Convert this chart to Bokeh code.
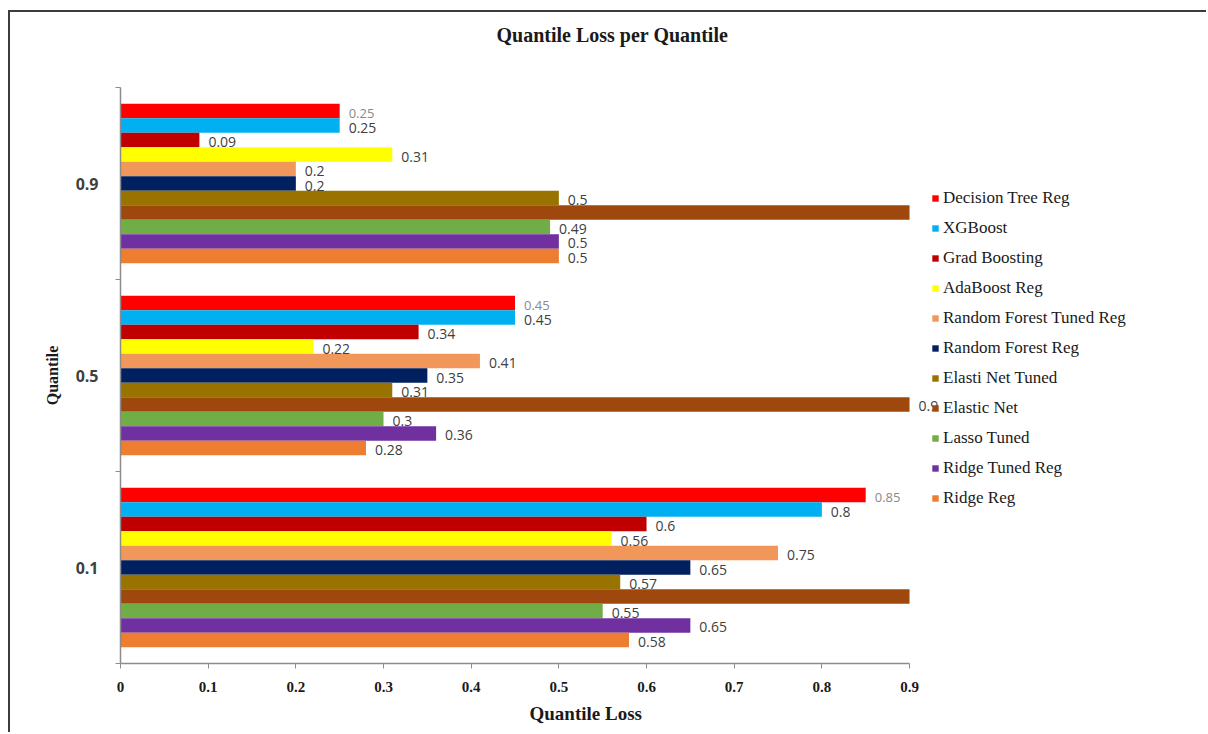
from bokeh.plotting import figure
from bokeh.models import ColumnDataSource, LabelSet, FixedTicker, Range1d, Title
from bokeh.core.properties import value
from bokeh.embed import file_html
from bokeh.resources import INLINE

# Quantile groups (bottom to top on the y axis)
quantiles = ["0.1", "0.5", "0.9"]

# Quantile loss per model, ordered as quantiles above
decision_tree_reg = [0.85, 0.45, 0.25]
xgboost = [0.80, 0.45, 0.25]
grad_boosting = [0.60, 0.34, 0.09]
adaboost_reg = [0.56, 0.22, 0.31]
random_forest_tuned_reg = [0.75, 0.41, 0.20]
random_forest_reg = [0.65, 0.35, 0.20]
elasti_net_tuned = [0.57, 0.31, 0.50]
elastic_net = [0.90, 0.90, 0.90]
lasso_tuned = [0.55, 0.30, 0.49]
ridge_tuned_reg = [0.65, 0.36, 0.50]
ridge_reg = [0.58, 0.28, 0.50]

# Elastic Net runs off the axis at 0.1 and 0.9, so only its 0.5 value is printed
elastic_net_labels = ["", "0.9", ""]

models = [
    ("Decision Tree Reg", decision_tree_reg, "#FF0000"),
    ("XGBoost", xgboost, "#00B0F0"),
    ("Grad Boosting", grad_boosting, "#C00000"),
    ("AdaBoost Reg", adaboost_reg, "#FFFF00"),
    ("Random Forest Tuned Reg", random_forest_tuned_reg, "#F1975A"),
    ("Random Forest Reg", random_forest_reg, "#002060"),
    ("Elasti Net Tuned", elasti_net_tuned, "#997300"),
    ("Elastic Net", elastic_net, "#9E480E"),
    ("Lasso Tuned", lasso_tuned, "#70AD47"),
    ("Ridge Tuned Reg", ridge_tuned_reg, "#7030A0"),
    ("Ridge Reg", ridge_reg, "#ED7D31"),
]

x_ticks = [0, 0.1, 0.2, 0.3, 0.4, 0.5, 0.6, 0.7, 0.8, 0.9]
x_max = 0.9

SERIF = "Liberation Serif"
SANS = "Open Sans"

# The plot frame runs on to the right edge so the legend and the
# end-of-bar labels sit inside it; the x axis itself stops at 0.9.
p = figure(
    width=1198, height=722,
    x_range=Range1d(0, 1.241), y_range=Range1d(-0.5, 2.5),
    output_backend="svg", toolbar_location=None,
    min_border_left=110, min_border_right=0,
    min_border_top=75, min_border_bottom=71,
)
p.margin = (10, 0, 0, 8)
p.styles = {"border-top": "2px solid #3c3c3c", "border-left": "2px solid #3c3c3c"}
p.outline_line_color = None
p.xgrid.visible = False
p.ygrid.visible = False

# Blank gap between the chart title and the top of the bars
p.add_layout(Title(text=" ", text_font_size="10px", standoff=24), "above")

# Chart title
p.title.text = "Quantile Loss per Quantile"
p.title.align = "left"
p.title.offset = 376
p.title.standoff = 10
p.title.text_font = SERIF
p.title.text_font_style = "bold"
p.title.text_font_size = "20px"
p.title.text_color = "#1a1a1a"

bar_h = 0.0755
n = len(models)
for i, (name, vals, color) in enumerate(models):
    ys = [g + (n // 2 - i) * bar_h for g in range(len(quantiles))]
    if name == "Elastic Net":
        texts = elastic_net_labels
    else:
        texts = [f"{v:g}" for v in vals]
    src = ColumnDataSource(dict(y=ys, right=vals, text=texts))
    p.hbar(y="y", left=0, right="right", height=bar_h, source=src,
           fill_color=color, line_color=None, legend_label=name)
    first = i == 0
    p.add_layout(LabelSet(
        x="right", y="y", text="text", source=src,
        x_offset=9, y_offset=-2,
        text_font=value(SANS),
        text_font_size=value("13px" if first else "14px"),
        text_color=value("#8a8a8a" if first else "#404040"),
        text_baseline=value("middle"), text_align=value("left"),
    ))

# X axis
xa = p.xaxis[0]
xa.bounds = (0, x_max)
xa.ticker = FixedTicker(ticks=x_ticks)
xa.major_label_overrides = {t: f"{t:g}" for t in x_ticks}
xa.major_label_text_font = SERIF
xa.major_label_text_font_style = "bold"
xa.major_label_text_font_size = "15px"
xa.major_label_text_color = "#1a1a1a"
xa.major_label_standoff = 13
xa.axis_line_color = "#8c8c8c"
xa.axis_line_width = 1.5
xa.major_tick_line_color = "#8c8c8c"
xa.major_tick_out = 5
xa.major_tick_in = 0
xa.minor_tick_line_color = None

p.add_layout(Title(
    text="Quantile Loss", align="left", offset=409, standoff=12,
    text_font=SERIF, text_font_style="bold", text_font_size="19px",
    text_color="#1a1a1a",
), "below")

# Y axis: labels at group centres, ticks at group boundaries
ya = p.yaxis[0]
ya.ticker = FixedTicker(ticks=[0, 1, 2], minor_ticks=[-0.5, 0.5, 1.5, 2.5])
ya.major_label_overrides = {i: q for i, q in enumerate(quantiles)}
ya.axis_label = "Quantile"
ya.axis_label_text_font = SERIF
ya.axis_label_text_font_style = "bold"
ya.axis_label_text_font_size = "16px"
ya.axis_label_text_color = "#1a1a1a"
ya.axis_label_standoff = 12
ya.major_label_text_font = SANS
ya.major_label_text_font_style = "bold"
ya.major_label_text_font_size = "16px"
ya.major_label_text_color = "#404040"
ya.major_label_standoff = 17
ya.axis_line_color = "#8c8c8c"
ya.axis_line_width = 1.5
ya.major_tick_line_color = None
ya.major_tick_out = 0
ya.major_tick_in = 0
ya.minor_tick_line_color = "#8c8c8c"
ya.minor_tick_out = 5
ya.minor_tick_in = 0

# Legend
lg = p.legend[0]
lg.location = (811, 155)
lg.margin = 0
lg.padding = 0
lg.border_line_color = None
lg.background_fill_alpha = 0
lg.label_text_font = SERIF
lg.label_text_font_size = "17px"
lg.label_text_color = "#1a1a1a"
lg.glyph_width = 8
lg.glyph_height = 8
lg.label_height = 20
lg.label_standoff = 4
lg.spacing = 10

open("out.html", "w").write(file_html(p, INLINE))
